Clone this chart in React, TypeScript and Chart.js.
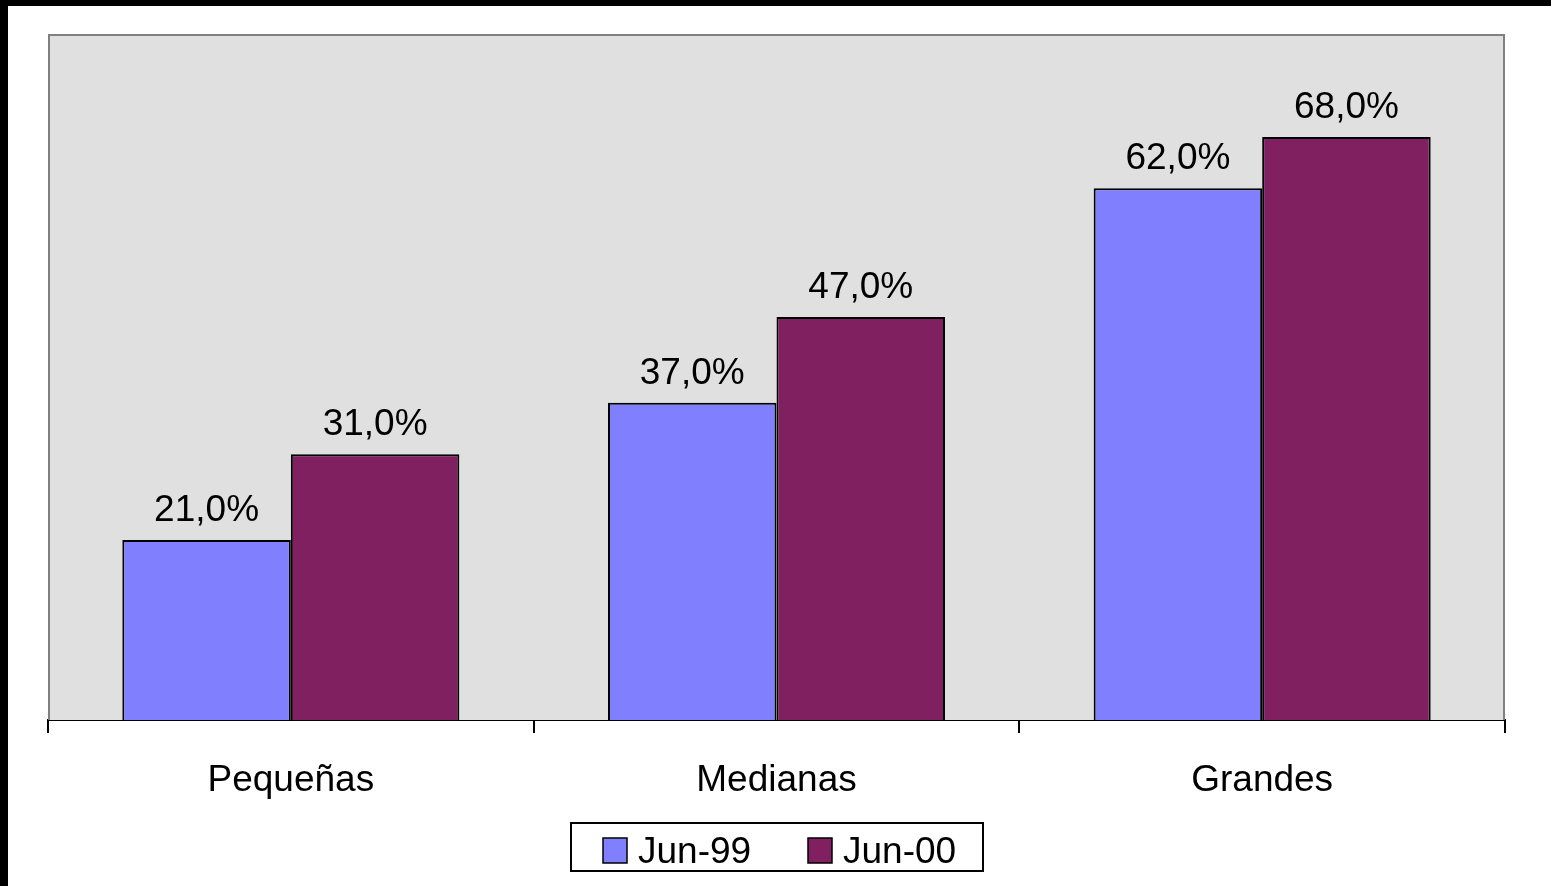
import React, { useEffect, useRef } from "react";
import { Chart, registerables } from "chart.js";

Chart.register(...registerables);

const categories = ["Pequeñas", "Medianas", "Grandes"];
const seriesNames = ["Jun-99", "Jun-00"];
const jun99 = [21, 37, 62];
const jun00 = [31, 47, 68];
const colors = ["#8080ff", "#802060"];
const yMin = 0;
const yMax = 80;

const FONT = '"Liberation Sans", Arial, sans-serif';

const fmt = (v: number) => v.toFixed(1).replace(".", ",") + "%";

const decorPlugin = {
  id: "decor",
  beforeDatasetsDraw(chart: any) {
    const { ctx, chartArea } = chart;
    const { left, top, right, bottom } = chartArea;
    ctx.save();
    ctx.fillStyle = "#e0e0e0";
    ctx.fillRect(left, top, right - left, bottom - top);
    ctx.strokeStyle = "#808080";
    ctx.lineWidth = 2;
    ctx.beginPath();
    ctx.moveTo(left + 1, bottom);
    ctx.lineTo(left + 1, top + 1);
    ctx.lineTo(right - 1, top + 1);
    ctx.lineTo(right - 1, bottom);
    ctx.stroke();
    ctx.restore();
  },
  afterDatasetsDraw(chart: any) {
    const { ctx } = chart;
    ctx.save();
    ctx.font = `37px ${FONT}`;
    ctx.fillStyle = "#000";
    ctx.textAlign = "center";
    ctx.textBaseline = "alphabetic";
    chart.data.datasets.forEach((ds: any, di: number) => {
      const meta = chart.getDatasetMeta(di);
      meta.data.forEach((bar: any, i: number) => {
        ctx.fillText(fmt(ds.data[i]), bar.x, bar.y - 19);
      });
    });
    ctx.restore();
  },
  afterDraw(chart: any) {
    const { ctx, chartArea } = chart;
    const cx = (chartArea.left + chartArea.right) / 2;
    const boxW = 412;
    const boxH = 48;
    const bx = Math.round(cx - boxW / 2);
    const by = 817;
    ctx.save();
    ctx.fillStyle = "#fff";
    ctx.fillRect(bx, by, boxW, boxH);
    ctx.strokeStyle = "#000";
    ctx.lineWidth = 2;
    ctx.strokeRect(bx, by, boxW, boxH);
    ctx.font = `37px ${FONT}`;
    ctx.textBaseline = "alphabetic";
    ctx.textAlign = "left";
    const offsets = [32, 237];
    seriesNames.forEach((name, i) => {
      const sx = bx + offsets[i];
      ctx.fillStyle = colors[i];
      ctx.fillRect(sx, by + 15, 24, 25);
      ctx.lineWidth = 1.5;
      ctx.strokeStyle = "#000";
      ctx.strokeRect(sx, by + 15, 24, 25);
      ctx.fillStyle = "#000";
      ctx.fillText(name, sx + 35, by + 40);
    });
    ctx.restore();
  },
};

export default function App() {
  const ref = useRef<HTMLCanvasElement | null>(null);

  useEffect(() => {
    const prevHtml = document.documentElement.style.background;
    document.documentElement.style.background = "#000";
    document.body.style.margin = "6px 0 0 8px";
    const canvas = ref.current!;
    const chart = new Chart(canvas, {
      type: "bar",
      data: {
        labels: categories,
        datasets: [
          {
            label: seriesNames[0],
            data: jun99,
            backgroundColor: colors[0],
            borderColor: "#000",
            borderWidth: 2,
            categoryPercentage: 0.694,
            barPercentage: 1,
          },
          {
            label: seriesNames[1],
            data: jun00,
            backgroundColor: colors[1],
            borderColor: "#000",
            borderWidth: 2,
            categoryPercentage: 0.694,
            barPercentage: 1,
          },
        ],
      },
      options: {
        responsive: false,
        animation: false,
        devicePixelRatio: 1,
        layout: { padding: { left: 40, top: 28, right: 46, bottom: 0 } },
        plugins: {
          legend: { display: false },
          tooltip: { enabled: false },
          title: { display: false },
        },
        scales: {
          x: {
            offset: true,
            grid: {
              offset: true,
              drawOnChartArea: false,
              drawTicks: true,
              tickLength: 13,
              color: "#000",
              lineWidth: 2,
            },
            border: { display: true, color: "#000", width: 2 },
            ticks: {
              color: "#000",
              font: { family: FONT, size: 37 },
              padding: 26,
              maxRotation: 0,
            },
            afterFit(scale: any) {
              scale.height = 166;
            },
          },
          y: {
            display: false,
            min: yMin,
            max: yMax,
          },
        },
      },
      plugins: [decorPlugin],
    });
    return () => {
      chart.destroy();
      document.documentElement.style.background = prevHtml;
    };
  }, []);

  return (
    <canvas
      ref={ref}
      width={1543}
      height={880}
      style={{ display: "block", width: 1543, height: 880, background: "#fff" }}
    />
  );
}
